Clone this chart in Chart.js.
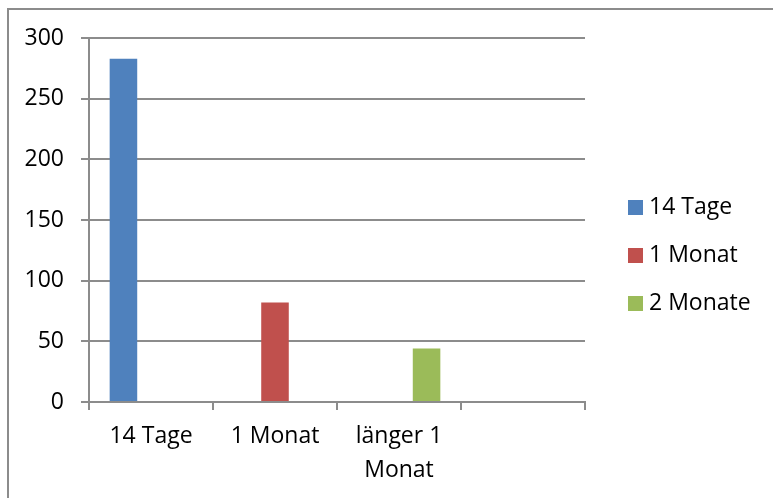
<!DOCTYPE html>
<html>
<head>
<meta charset="utf-8">
<script src="https://cdn.jsdelivr.net/npm/chart.js@4/dist/chart.umd.min.js"></script>
<style>
  html, body { margin: 0; padding: 0; background: #fff; overflow: hidden; }
  #frame { position: absolute; left: 7px; top: 8px; width: 800px; height: 520px; border: 2px solid #8c8c8c; box-sizing: border-box; }
  #wrap { position: absolute; left: 0; top: 0; width: 773px; height: 498px; }
  #legend { position: absolute; left: 628px; top: 189px; margin: 0; padding: 0; list-style: none;
            font-family: "Open Sans", sans-serif; font-size: 23px; color: #000; }
  #legend li { height: 48px; line-height: 32px; white-space: nowrap; }
  #legend .box { display: inline-block; width: 15px; height: 15px; margin-right: 6px; vertical-align: -1px; }
</style>
</head>
<body>
<div id="frame"></div>
<div id="wrap"><canvas id="chart" width="773" height="498"></canvas></div>
<ul id="legend"></ul>
<script>
// Kategorien und Werte
const categories = ["14 Tage", "1 Monat", ["länger 1", "Monat"], ""];
const seriesNames = ["14 Tage", "1 Monat", "2 Monate"];
const tage14 = [283, null, null, null];
const monat1 = [null, 82, null, null];
const monate2 = [null, null, 44, null];
const yTicks = [0, 50, 100, 150, 200, 250, 300];

const colors = ["#4F81BD", "#C0504D", "#9BBB59"];
const gridColor = "#8c8c8c";
const font = { family: "'Open Sans', sans-serif", size: 23, lineHeight: 1.45 };

const target = document.getElementById("chart");
const chart = new Chart(target.getContext("2d"), {
  type: 'bar',
  data: {
    labels: categories,
    datasets: [tage14, monat1, monate2].map((d, i) => ({
      label: seriesNames[i],
      data: d,
      backgroundColor: colors[i],
      borderWidth: 0,
      categoryPercentage: 3 / 4.5,
      barPercentage: 1
    }))
  },
  options: {
    responsive: false,
    animation: false,
    layout: { padding: { top: 38, right: 188, left: 0, bottom: 0 } },
    plugins: { legend: { display: false }, tooltip: { enabled: false } },
    scales: {
      x: {
        grid: { drawOnChartArea: false, drawTicks: true, tickLength: 8, color: gridColor, lineWidth: 2 },
        border: { color: gridColor, width: 2 },
        ticks: { font: font, color: '#000', padding: 10, maxRotation: 0 },
        afterFit: (s) => { s.height = 96; }
      },
      y: {
        min: 0, max: 300,
        afterBuildTicks: (s) => { s.ticks = yTicks.map(v => ({ value: v })); },
        grid: { color: gridColor, lineWidth: 2, tickLength: 8 },
        border: { color: gridColor, width: 2 },
        ticks: { font: { family: font.family, size: 23 }, color: '#000', padding: 17 },
        afterFit: (s) => { s.width = 89; }
      }
    }
  }
});

// eigene Legende aus den Datensätzen
const ul = document.getElementById("legend");
chart.data.datasets.forEach((ds) => {
  ul.innerHTML += `<li><span class="box" style="background-color: ${ds.backgroundColor}"></span>${ds.label}</li>`;
});
</script>
</body>
</html>
